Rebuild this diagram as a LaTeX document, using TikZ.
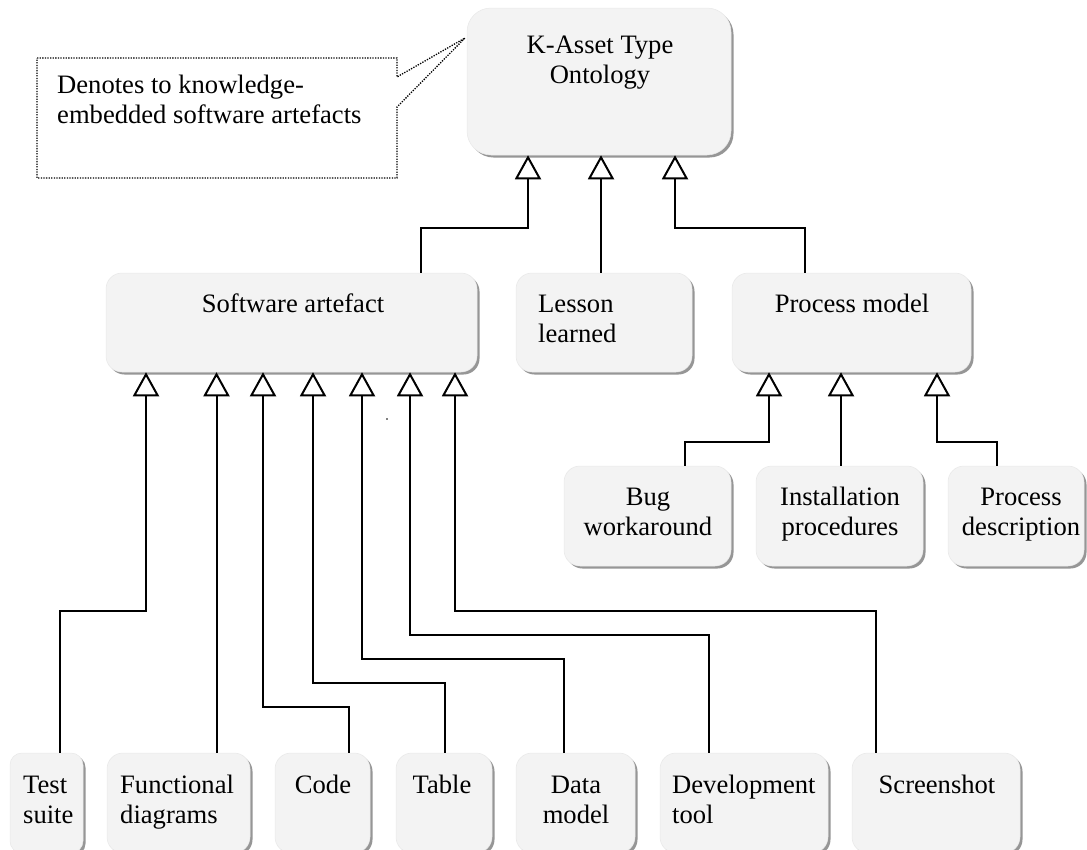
\documentclass[tikz,border=0pt]{standalone}
\usepackage{fontspec}
\setmainfont{Liberation Serif}
\usetikzlibrary{arrows.meta,shadows}
\definecolor{boxfill}{RGB}{243,243,243}
\definecolor{boxedge}{RGB}{232,232,232}
\definecolor{boxshadow}{RGB}{150,150,150}
\newcommand\tcl[2]{\begin{tabular}[t]{@{}c@{}}#1\\#2\end{tabular}}
\newcommand\tll[2]{\begin{tabular}[t]{@{}l@{}}#1\\#2\end{tabular}}
\begin{document}
\begin{tikzpicture}[x=1pt,y=-1pt,
  kbox/.style={rectangle, fill=boxfill, draw=boxedge, line width=0.5pt, inner sep=0pt,
    general shadow={fill=boxshadow, shadow xshift=2.5pt, shadow yshift=-2.5pt}},
  lbl/.style={inner sep=0pt, font=\fontsize{26.6}{30}\selectfont, anchor=base},
  lbll/.style={lbl, anchor=base west},
  gen/.style={line width=2pt, line join=miter,
    -{Triangle[width=26pt,length=24pt,fill=white,line join=miter]}},
  note/.style={line width=1.3pt, dash pattern=on 1.3pt off 1.3pt},
]
\useasboundingbox (0,0) rectangle (1087,849);
\fill[white] (0,0) rectangle (1087,849);
\clip (0,0) rectangle (1087,849);

% boxes
\node[kbox, rounded corners=24pt, minimum width=264pt, minimum height=147pt] (ka) at (599,81.5) {};
\node[kbox, rounded corners=16pt, minimum width=371pt, minimum height=99pt] (sa) at (291.5,322.5) {};
\node[kbox, rounded corners=16pt, minimum width=176pt, minimum height=99pt] (ll) at (604,322.5) {};
\node[kbox, rounded corners=16pt, minimum width=239pt, minimum height=99pt] (pm) at (851.5,322.5) {};
\node[kbox, rounded corners=16pt, minimum width=167pt, minimum height=100pt] (bw) at (647.5,516) {};
\node[kbox, rounded corners=16pt, minimum width=167pt, minimum height=100pt] (ip) at (839.5,516) {};
\node[kbox, rounded corners=16pt, minimum width=136pt, minimum height=100pt] (pd) at (1016,516) {};
\node[kbox, rounded corners=12pt, minimum width=73pt, minimum height=100pt] (ts) at (46.5,803) {};
\node[kbox, rounded corners=16pt, minimum width=143pt, minimum height=100pt] (fd) at (178.5,803) {};
\node[kbox, rounded corners=16pt, minimum width=95pt, minimum height=100pt] (cd) at (322.5,803) {};
\node[kbox, rounded corners=16pt, minimum width=96pt, minimum height=100pt] (tb) at (444,803) {};
\node[kbox, rounded corners=16pt, minimum width=119pt, minimum height=100pt] (dm) at (575.5,803) {};
\node[kbox, rounded corners=16pt, minimum width=168pt, minimum height=100pt] (dt) at (744,803) {};
\node[kbox, rounded corners=16pt, minimum width=168pt, minimum height=100pt] (sc) at (936,803) {};

% labels
\node[lbl] (ka-t) at (600,53) {\tcl{K-Asset Type}{Ontology}};
\node[lbl] (sa-t) at (293,312) {Software artefact};
\node[lbll] (ll-t) at (538,312) {\tll{Lesson}{learned}};
\node[lbl] (pm-t) at (852,312) {Process model};
\node[lbl] (bw-t) at (648,505) {\tcl{Bug}{workaround}};
\node[lbl] (ip-t) at (840,505) {\tcl{Installation}{procedures}};
\node[lbl] (pd-t) at (1021,505) {\tcl{Process}{description}};
\node[lbll] (ts-t) at (23,793) {\tll{Test}{suite}};
\node[lbll] (fd-t) at (120,793) {\tll{Functional}{diagrams}};
\node[lbl] (cd-t) at (323,793) {Code};
\node[lbl] (tb-t) at (442,793) {Table};
\node[lbl] (dm-t) at (576,793) {\tcl{Data}{model}};
\node[lbll] (dt-t) at (672,793) {\tll{Development}{tool}};
\node[lbl] (sc-t) at (937,793) {Screenshot};

% note callout
\coordinate (tip) at (465,38);
\draw[note] (37,58) -- (397,58) -- (397,77) -- (tip) -- (397,107) -- (397,178) -- (37,178) -- cycle;
\node[lbll] (note-t) at (57,93) {\tll{Denotes to knowledge-}{embedded software artefacts}};

% top-level connectors
\draw[gen] (421,0 |- sa.north) |- (528,228) -- (528,0 |- ka.south);
\draw[gen] (601,0 |- ll.north) -- (601,0 |- ka.south);
\draw[gen] (805,0 |- pm.north) |- (675,228) -- (675,0 |- ka.south);

% process model connectors
\draw[gen] (685,0 |- bw.north) |- (769,442) -- (769,0 |- pm.south);
\draw[gen] (841,0 |- ip.north) -- (841,0 |- pm.south);
\draw[gen] (997,0 |- pd.north) |- (937,442) -- (937,0 |- pm.south);

% software artefact connectors
\draw[gen] (60,0 |- ts.north) |- (146,611) -- (146,0 |- sa.south);
\draw[gen] (216.5,0 |- fd.north) -- (216.5,0 |- sa.south);
\draw[gen] (349,0 |- cd.north) |- (263,707) -- (263,0 |- sa.south);
\draw[gen] (445,0 |- tb.north) |- (313,683) -- (313,0 |- sa.south);
\draw[gen] (564,0 |- dm.north) |- (362,659) -- (362,0 |- sa.south);
\draw[gen] (709,0 |- dt.north) |- (410,635) -- (410,0 |- sa.south);
\draw[gen] (876,0 |- sc.north) |- (455,611) -- (455,0 |- sa.south);

% stray dot
\fill (387,419) circle (0.9pt);
\end{tikzpicture}
\end{document}
